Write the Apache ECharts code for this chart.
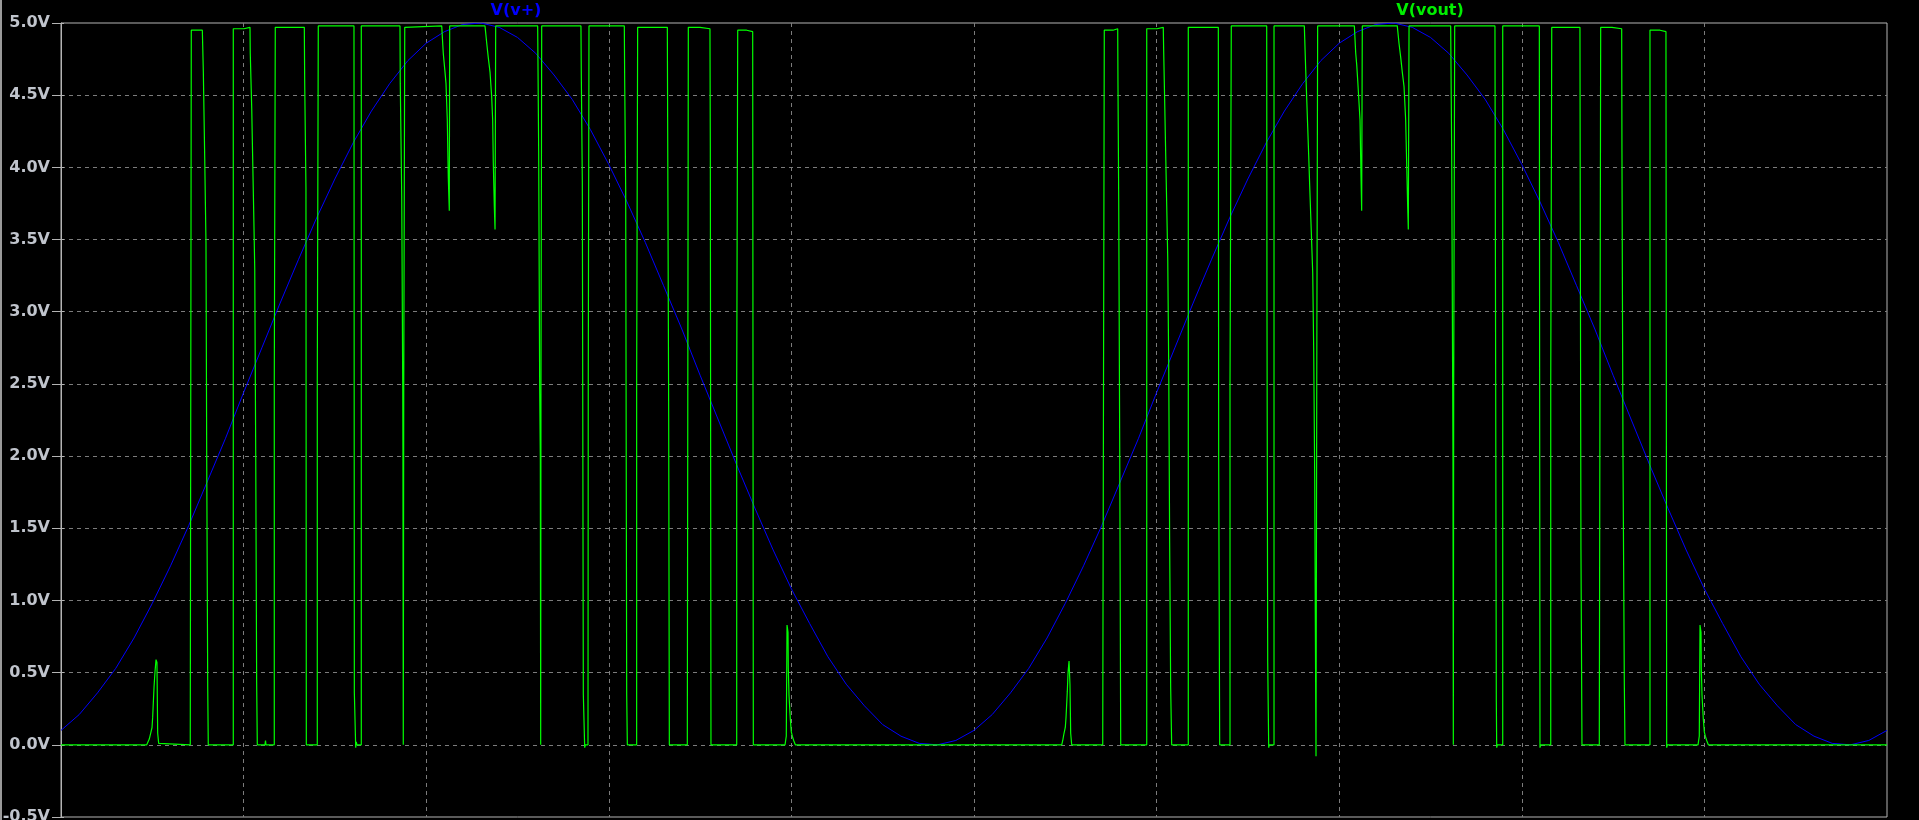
<!DOCTYPE html>
<html>
<head>
<meta charset="utf-8">
<script src="https://cdn.jsdelivr.net/npm/echarts@6/dist/echarts.min.js"></script>
<style>
html,body{margin:0;padding:0;background:#000;}
#chart{width:1919px;height:820px;}
</style>
</head>
<body>
<div id="chart"></div>
<script>
// Time axis in ms (0..20 ms, 10 divisions), voltage in V
const xTicksMs = [0, 2, 4, 6, 8, 10, 12, 14, 16, 18, 20];
const yTickValues = [-0.5, 0, 0.5, 1, 1.5, 2, 2.5, 3, 3.5, 4, 4.5, 5];
const traceNames = ['V(v+)', 'V(vout)'];

// V(v+) : sampled every 0.2 ms
const vinTimes = [
  0,0.2,0.4,0.6,0.8,1,1.2,1.4,1.6,1.8,2,2.2,2.4,2.6,2.8,3,3.2,3.4,3.6,3.8,
  4,4.2,4.4,4.6,4.8,5,5.2,5.4,5.6,5.8,6,6.2,6.4,6.6,6.8,7,7.2,7.4,7.6,7.8,
  8,8.2,8.4,8.6,8.8,9,9.2,9.4,9.6,9.8,10,10.2,10.4,10.6,10.8,11,11.2,11.4,11.6,11.8,
  12,12.2,12.4,12.6,12.8,13,13.2,13.4,13.6,13.8,14,14.2,14.4,14.6,14.8,15,15.2,15.4,15.6,15.8,
  16,16.2,16.4,16.6,16.8,17,17.2,17.4,17.6,17.8,18,18.2,18.4,18.6,18.8,19,19.2,19.4,19.6,19.8,20
];
const vinValues = [
  0.10,0.21,0.36,0.53,0.74,0.98,1.24,1.52,1.82,2.12,2.44,2.75,3.06,3.36,3.65,3.92,4.17,4.39,4.58,4.74,
  4.86,4.94,4.99,5.00,4.97,4.90,4.79,4.64,4.47,4.26,4.02,3.76,3.48,3.18,2.88,2.56,2.25,1.94,1.64,1.35,
  1.08,0.84,0.61,0.42,0.27,0.14,0.06,0.01,0.00,0.03,0.10,0.21,0.36,0.53,0.74,0.98,1.24,1.52,1.82,2.12,
  2.44,2.75,3.06,3.36,3.65,3.92,4.17,4.39,4.58,4.74,4.86,4.94,4.99,5.00,4.97,4.90,4.79,4.64,4.47,4.26,
  4.02,3.76,3.48,3.18,2.88,2.56,2.25,1.94,1.64,1.35,1.08,0.84,0.61,0.42,0.27,0.14,0.06,0.01,0.00,0.03,0.10
];

// V(vout) : breakpoints (ms)
const voutTimes = [
  0,0.939,0.967,0.982,0.997,1.004,1.019,1.030,1.041,1.051,1.059,1.070,1.077,
  1.416,1.416,1.427,1.427,1.548,1.559,1.574,1.588,1.596,1.607,1.613,
  1.887,1.887,2.004,2.004,2.070,2.073,2.089,2.100,2.111,2.122,2.133,2.143,2.150,
  2.234,2.240,2.245,
  2.336,2.336,2.347,2.347,2.665,2.669,2.683,2.687,
  2.807,2.807,2.818,2.818,3.209,3.213,3.223,3.228,3.234,3.242,
  3.289,3.289,3.713,3.716,3.732,3.743,3.745,3.749,3.754,3.765,3.765,
  4.170,4.187,4.206,4.217,4.231,4.242,4.253,4.257,
  4.644,4.663,4.680,4.699,4.717,4.728,4.735,4.746,4.754,4.761,
  5.221,5.232,5.243,5.250,5.254,5.257,5.265,5.265,
  5.695,5.699,5.710,5.721,5.732,5.736,5.743,5.772,5.775,5.783,5.783,
  6.170,6.174,6.185,6.196,6.203,6.305,6.305,6.316,6.316,
  6.641,6.645,6.656,6.663,6.860,6.860,6.871,6.871,
  6.999,6.999,7.108,7.112,7.119,7.401,7.401,7.412,7.412,
  7.510,7.510,7.576,7.583,
  7.930,7.933,7.944,7.952,7.963,7.966,7.974,7.988,7.999,8.010,8.025,8.043,
  10.961,10.972,10.986,11.000,11.008,11.022,11.030,11.041,11.051,11.059,11.070,
  11.410,11.410,11.427,11.427,11.522,11.522,11.574,11.577,11.585,11.596,11.607,
  11.892,11.892,12.004,12.004,12.073,12.078,12.089,12.100,12.111,12.122,12.133,12.143,12.154,12.165,
  12.347,12.347,12.676,12.680,12.691,
  12.804,12.804,12.818,12.818,13.206,13.209,13.217,13.226,13.228,13.234,
  13.286,13.286,13.618,13.633,13.644,13.655,13.666,13.677,13.688,13.699,13.710,13.721,13.732,13.738,13.746,13.754,13.764,13.764,
  14.166,14.181,14.192,14.203,14.214,14.228,14.239,14.246,14.253,
  14.636,14.655,14.674,14.691,14.710,14.728,14.739,14.750,14.757,14.765,
  15.221,15.232,15.243,15.246,15.250,15.254,15.265,15.265,
  15.706,15.721,15.725,15.732,15.791,15.791,
  16.192,16.199,16.207,16.317,16.317,16.328,16.328,
  16.637,16.641,16.648,16.659,16.849,16.849,16.864,16.864,
  16.988,16.988,17.094,17.097,17.108,17.123,17.130,17.404,17.404,
  17.514,17.514,17.579,17.587,17.594,
  17.930,17.933,17.944,17.952,17.963,17.966,17.974,17.988,17.999,18.010,18.025,18.043,
  20
];
const voutValues = [
  0,0,0.04,0.08,0.12,0.19,0.40,0.51,0.59,0.57,0.08,0.01,0,
  0,0.07,0.07,4.95,4.95,4.66,4.07,3.48,1.99,0.40,0,
  0,4.96,4.96,4.97,4.97,4.79,4.41,4.04,3.68,3.30,1.99,0.43,0,
  0,0.03,0,
  0,2.48,2.48,4.97,4.97,4.60,3.86,0,
  0,2.49,2.49,4.98,4.98,0.36,0.36,-0.02,0.02,0,
  0,4.98,4.98,4.58,3.80,2.47,2.06,0,2.47,2.47,4.97,
  4.98,4.79,4.66,4.58,4.33,3.93,3.70,4.98,
  4.98,4.86,4.76,4.66,4.49,4.33,4.03,3.73,3.57,4.98,
  4.98,4.11,2.47,1.98,0,2.47,2.47,4.98,
  4.98,4.63,3.90,0.35,0.35,-0.02,0,0,2.49,2.49,4.98,
  4.98,4.60,3.84,0.35,0,0,2.49,2.49,4.97,
  4.97,4.24,2.27,0,0,0.04,0.04,4.97,
  4.97,4.96,4.96,4.15,0,0,2.47,2.47,4.95,
  4.95,4.94,4.94,0,
  0,0.01,0.06,0.83,0.78,0.53,0.34,0.18,0.09,0.06,0.03,0,
  0,0.03,0.08,0.12,0.19,0.37,0.50,0.58,0.42,0.08,0,
  0,0.05,0.05,4.95,4.95,4.96,4.96,4.57,3.78,2.06,0,
  0,4.96,4.96,4.97,4.97,4.79,4.44,4.08,3.73,3.37,2.60,1.40,0.40,0,
  0,4.97,4.97,1.96,0,
  0,2.49,2.49,4.98,4.98,3.04,0.57,0.56,-0.02,0,
  0,4.98,4.98,4.68,4.48,4.28,4.08,3.87,3.67,3.47,3.27,2.72,1.83,0.93,-0.08,2.47,2.47,4.98,
  4.98,4.79,4.71,4.60,4.48,4.33,3.93,3.70,4.98,
  4.98,4.86,4.76,4.66,4.56,4.33,4.03,3.73,3.57,4.98,
  4.98,4.11,2.47,1.98,0,2.47,2.47,4.98,
  4.98,0.30,-0.02,0,0,4.98,
  4.98,-0.02,0,0,2.49,2.49,4.97,
  4.97,3.50,1.35,0,0,0.12,0.12,4.97,
  4.97,4.96,4.96,4.11,2.04,0.42,0,0,4.95,
  4.95,4.94,4.94,-0.02,0,
  0,0.01,0.06,0.83,0.78,0.53,0.34,0.18,0.09,0.06,0.03,0,
  0
];

const vinData = vinTimes.map((t, i) => [t, vinValues[i]]);
const voutData = voutTimes.map((t, i) => [t, voutValues[i]]);

const chart = echarts.init(document.getElementById('chart'), null, {renderer: 'canvas'});
const gridColor = '#7c7c7c';
const frameColor = '#b4b4b4';
const labelFont = 'DejaVu Sans';

chart.setOption({
  backgroundColor: '#000000',
  animation: false,
  grid: {
    left: 61, right: 32, top: 23, bottom: 3,
    containLabel: false,
    outerBoundsMode: 'none',
    show: true, borderColor: frameColor, borderWidth: 1,
    backgroundColor: 'transparent'
  },
  xAxis: {
    type: 'value',
    min: xTicksMs[0], max: xTicksMs[xTicksMs.length - 1], interval: 2,
    axisLine: {show: false},
    axisTick: {show: false},
    axisLabel: {show: false},
    splitLine: {
      show: true, showMinLine: false, showMaxLine: false,
      lineStyle: {color: gridColor, type: [4, 4], width: 1}
    }
  },
  yAxis: [
    {
      type: 'value',
      min: yTickValues[0], max: yTickValues[yTickValues.length - 1], interval: 0.5,
      axisLine: {show: true, lineStyle: {color: frameColor, width: 1}},
      axisTick: {show: true, length: 9, lineStyle: {color: frameColor, width: 1}},
      axisLabel: {
        show: true, margin: 11,
        formatter: v => v.toFixed(1) + 'V',
        color: '#c0c4cc', fontFamily: labelFont, fontWeight: 'bold', fontSize: 16
      },
      splitLine: {
        show: true, showMinLine: false, showMaxLine: false,
        lineStyle: {color: gridColor, type: [4, 4], width: 1}
      }
    },
    {
      type: 'value', position: 'left',
      min: yTickValues[0], max: yTickValues[yTickValues.length - 1], interval: 0.5,
      axisLine: {show: false},
      axisTick: {show: true, inside: true, length: 3, lineStyle: {color: frameColor, width: 1}},
      axisLabel: {show: false},
      splitLine: {show: false}
    }
  ],
  graphic: [
    {
      type: 'line', silent: true,
      shape: {x1: 1, y1: 0, x2: 1, y2: 820},
      style: {stroke: '#9a9a9a', lineWidth: 2}
    },
    {
      type: 'text', x: 516, y: 11, silent: true,
      style: {
        text: traceNames[0], fill: '#0000ff',
        font: 'bold 16px "DejaVu Sans"',
        textAlign: 'center', textVerticalAlign: 'middle',
        align: 'center', verticalAlign: 'middle'
      }
    },
    {
      type: 'text', x: 1430, y: 11, silent: true,
      style: {
        text: traceNames[1], fill: '#00ee00',
        font: 'bold 16px "DejaVu Sans"',
        textAlign: 'center', textVerticalAlign: 'middle',
        align: 'center', verticalAlign: 'middle'
      }
    }
  ],
  series: [
    {
      name: traceNames[0], type: 'line', data: vinData,
      symbol: 'none', showSymbol: false, silent: true,
      lineStyle: {color: '#0000ff', width: 1},
      z: 2
    },
    {
      name: traceNames[1], type: 'line', data: voutData,
      symbol: 'none', showSymbol: false, silent: true,
      lineStyle: {color: '#00ff00', width: 1.2},
      z: 3
    }
  ]
});
</script>
</body>
</html>
